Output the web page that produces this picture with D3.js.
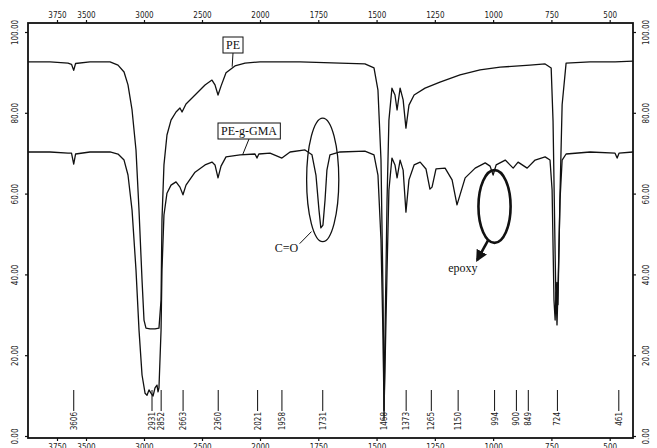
<!DOCTYPE html>
<html>
<head>
<meta charset="utf-8">
<style>
  html, body { margin: 0; padding: 0; background: #fff; }
  svg { display: block; }
  .tick-text { font-family: "Liberation Sans Narrow", "DejaVu Sans Condensed", "Liberation Sans", sans-serif; font-size: 8px; fill: #1a1a1a; }
  .note { font-family: "Liberation Serif", "DejaVu Serif", serif; font-size: 12px; fill: #111; }
</style>
</head>
<body>
<div id="chart"></div>

<script src="https://cdnjs.cloudflare.com/ajax/libs/d3/7.8.5/d3.min.js"></script>
<script>
  // chart size
  const width = 657;
  const height = 448;

  // axis ticks (wavenumber, cm-1) and transmittance ticks (%T)
  const wnTicks = [3750, 3500, 3000, 2500, 2000, 1750, 1500, 1250, 1000, 750, 500];
  const tTicks = [0, 20, 40, 60, 80, 100];

  // PE spectrum
  const peWn = [4000, 3810, 3655, 3625, 3606, 3590, 3466, 3293, 3224, 3172, 3138, 3103, 3069, 3043, 3017, 3000,
    2983, 2948, 2905, 2871, 2853, 2845, 2828, 2802, 2767, 2724, 2690, 2672, 2638, 2560, 2474, 2414, 2388, 2362,
    2336, 2293, 2216, 2129, 2000, 1828, 1657, 1550, 1511, 1494, 1481, 1472, 1468, 1464, 1455, 1447, 1434, 1421,
    1412, 1399, 1386, 1374, 1361, 1339, 1292, 1228, 1142, 1056, 970, 842, 777, 751, 743, 734, 730, 726, 722,
    713, 704, 687, 584, 477, 400];
  const peT = [92.6, 92.6, 92.3, 92.0, 90.5, 92.2, 92.6, 92.6, 91.8, 90.1, 86.9, 80.7, 70.8, 55.9, 38.6, 28.7,
    26.7, 26.5, 26.5, 26.7, 33.7, 53.5, 67.1, 74.5, 78.2, 80.2, 81.2, 80.2, 82.2, 84.4, 86.9, 88.1, 86.9, 84.4,
    86.6, 89.9, 91.6, 92.3, 92.6, 92.6, 92.3, 92.1, 91.1, 85.6, 68.3, 33.7, 4.0, 23.8, 58.4, 78.2, 86.1, 84.4,
    80.7, 86.1, 83.2, 76.2, 81.9, 84.4, 86.1, 87.6, 89.4, 90.6, 91.3, 91.8, 92.1, 91.1, 78.0, 45.0, 31.2, 38.0,
    32.5, 60.0, 82.0, 92.3, 92.6, 92.6, 92.8];

  // PE-g-GMA spectrum
  const gmaWn = [4000, 3810, 3655, 3625, 3606, 3590, 3466, 3293, 3224, 3172, 3138, 3103, 3069, 3043, 3017, 2991,
    2974, 2957, 2940, 2922, 2905, 2888, 2879, 2871, 2853, 2845, 2828, 2802, 2767, 2724, 2690, 2664, 2638, 2560,
    2474, 2414, 2388, 2362, 2336, 2293, 2172, 2043, 2026, 2010, 1957, 1906, 1871, 1807, 1777, 1760, 1747, 1739,
    1730, 1721, 1713, 1700, 1657, 1550, 1511, 1494, 1481, 1472, 1468, 1464, 1455, 1447, 1434, 1421, 1412, 1399,
    1386, 1374, 1361, 1339, 1313, 1288, 1271, 1262, 1245, 1206, 1176, 1155, 1142, 1120, 1077, 1034, 1013, 1000,
    987, 948, 914, 893, 854, 820, 777, 756, 747, 739, 734, 730, 726, 722, 713, 704, 687, 584, 477, 468, 460, 400];
  const gmaT = [70.3, 70.3, 70.0, 70.0, 67.3, 69.8, 70.3, 70.3, 69.8, 68.3, 64.6, 55.9, 41.1, 26.2, 15.1, 10.6,
    10.1, 11.4, 10.6, 9.9, 11.9, 12.6, 10.9, 11.9, 26.2, 41.1, 54.7, 60.1, 62.1, 62.9, 61.6, 59.7, 62.1, 65.3,
    67.1, 67.8, 67.1, 63.9, 66.8, 69.1, 69.6, 69.8, 68.8, 69.8, 70.0, 68.8, 70.3, 70.8, 69.6, 64.6, 55.9, 51.5,
    52.2, 58.4, 65.8, 69.6, 70.3, 70.5, 69.6, 64.6, 48.5, 23.8, 6.4, 16.3, 41.1, 60.9, 68.8, 67.1, 63.9, 68.3,
    65.8, 55.4, 63.4, 67.1, 67.8, 66.1, 61.1, 61.6, 66.1, 66.3, 63.4, 57.2, 59.7, 63.9, 66.3, 67.6, 66.8, 64.6,
    67.1, 68.3, 66.3, 67.8, 66.3, 68.3, 69.1, 68.3, 60.9, 33.7, 28.7, 35.6, 27.5, 35.6, 58.4, 68.3, 69.8, 70.3,
    70.0, 68.8, 70.0, 70.3];

  // peak markers along the bottom: where each is drawn and its printed label
  const peakAt = [3606, 2931, 2852, 2663, 2360, 2021, 1906, 1731, 1468, 1373, 1265, 1150, 994, 900, 849, 724, 461];
  const peakText = ["3606", "2931", "2852", "2663", "2360", "2021", "1958", "1731", "1468", "1373", "1265",
    "1150", "994", "900", "849", "724", "461"];

  const peData = peWn.map((w, i) => ({w, t: peT[i]}));
  const gmaData = gmaWn.map((w, i) => ({w, t: gmaT[i]}));

  // scales: the wavenumber axis is stretched 2x below 2000 cm-1
  const x = d3.scaleLinear().domain([4000, 2000, 400]).range([28, 260, 633]);
  const y = d3.scaleLinear().domain([0, 100]).range([436, 32]);
  const frameTop = 23, frameBottom = 438, frameLeft = 28, frameRight = 633;

  const svg = d3.create("svg")
    .attr("width", width)
    .attr("height", height)
    .attr("viewBox", [0, 0, width, height]);

  // attach now so text boxes can be measured
  d3.select("#chart").node().appendChild(svg.node());

  // frame
  svg.append("rect")
    .attr("x", frameLeft).attr("y", frameTop)
    .attr("width", frameRight - frameLeft).attr("height", frameBottom - frameTop)
    .attr("fill", "none").attr("stroke", "#111").attr("stroke-width", 1.8);

  // top and bottom wavenumber axes
  const topAxis = d3.axisTop(x).tickValues(wnTicks).tickSize(3).tickPadding(2).tickFormat(d3.format("d"));
  const bottomAxis = d3.axisBottom(x).tickValues(wnTicks).tickSize(3).tickPadding(3).tickFormat(d3.format("d"));

  const gTop = svg.append("g").attr("transform", `translate(0,${frameTop})`).call(topAxis);
  const gBottom = svg.append("g").attr("transform", `translate(0,${frameBottom})`).call(bottomAxis);

  // left and right %T axes, rotated labels
  const gLeft = svg.append("g").attr("transform", `translate(${frameLeft},0)`)
    .call(d3.axisLeft(y).tickValues(tTicks).tickSize(3).tickFormat(d3.format(".2f")));
  const gRight = svg.append("g").attr("transform", `translate(${frameRight},0)`)
    .call(d3.axisRight(y).tickValues(tTicks).tickSize(3).tickFormat(d3.format(".2f")));

  [gTop, gBottom, gLeft, gRight].forEach(g => {
    g.select(".domain").remove();
    g.selectAll(".tick line").attr("stroke", "#111").attr("stroke-width", 1.2);
    g.selectAll(".tick text").attr("class", "tick-text");
  });

  gLeft.selectAll(".tick text")
    .attr("x", null).attr("dy", null)
    .attr("text-anchor", "middle")
    .attr("transform", "translate(-13,0) rotate(-90)")
    .attr("y", 3);
  gRight.selectAll(".tick text")
    .attr("x", null).attr("dy", null)
    .attr("text-anchor", "middle")
    .attr("transform", "translate(13,0) rotate(-90)")
    .attr("y", 3);

  // spectra
  const line = d3.line().x(d => x(d.w)).y(d => y(d.t));

  svg.append("path")
    .datum(peData)
    .attr("d", line)
    .attr("fill", "none").attr("stroke", "#111").attr("stroke-width", 1.3)
    .attr("stroke-linejoin", "round");

  svg.append("path")
    .datum(gmaData)
    .attr("d", line)
    .attr("fill", "none").attr("stroke", "#111").attr("stroke-width", 1.3)
    .attr("stroke-linejoin", "round");

  // peak markers
  const peaks = svg.append("g");
  peaks.selectAll("line")
    .data(peakAt)
    .join("line")
    .attr("x1", d => x(d)).attr("x2", d => x(d))
    .attr("y1", 390).attr("y2", 411)
    .attr("stroke", "#222").attr("stroke-width", 1.1);
  peaks.selectAll("text")
    .data(peakAt)
    .join("text")
    .attr("class", "tick-text")
    .attr("text-anchor", "end")
    .attr("transform", d => `translate(${x(d) + 3},412) rotate(-90)`)
    .text((d, i) => peakText[i]);

  // labels of the two spectra
  function boxLabel(text, cx, cy, wn, t) {
    const g = svg.append("g");
    const txt = g.append("text").attr("class", "note")
      .attr("x", cx).attr("y", cy + 4).attr("text-anchor", "middle").text(text);
    const bb = txt.node().getBBox();
    g.insert("rect", "text")
      .attr("x", bb.x - 3).attr("y", bb.y - 1)
      .attr("width", bb.width + 6).attr("height", bb.height + 2)
      .attr("fill", "#fff").attr("stroke", "#111").attr("stroke-width", 1);
    g.append("line")
      .attr("x1", cx).attr("y1", bb.y + bb.height + 1)
      .attr("x2", x(wn)).attr("y2", y(t))
      .attr("stroke", "#111").attr("stroke-width", 1);
  }

  // C=O ellipse
  svg.append("ellipse")
    .attr("cx", x(1731)).attr("cy", y(63.4))
    .attr("rx", x(1662) - x(1731)).attr("ry", y(48.1) - y(63.4))
    .attr("fill", "none").attr("stroke", "#111").attr("stroke-width", 1.3);
  svg.append("line")
    .attr("x1", x(1830)).attr("y1", y(47.6))
    .attr("x2", x(1779)).attr("y2", y(50.6))
    .attr("stroke", "#111").attr("stroke-width", 1);
  svg.append("text").attr("class", "note")
    .attr("x", x(1836)).attr("y", y(45.5)).attr("text-anchor", "end").text("C=O");

  // epoxy ellipse and arrow
  svg.append("defs").append("marker")
    .attr("id", "arrow").attr("viewBox", "0 0 10 10")
    .attr("refX", 8).attr("refY", 5)
    .attr("markerWidth", 4.5).attr("markerHeight", 4.5)
    .attr("orient", "auto")
    .append("path").attr("d", "M0,0L10,5L0,10z").attr("fill", "#111");

  svg.append("ellipse")
    .attr("cx", x(994)).attr("cy", y(56.8))
    .attr("rx", x(925) - x(994)).attr("ry", y(47.8) - y(56.8))
    .attr("fill", "none").attr("stroke", "#111").attr("stroke-width", 2.6);
  svg.append("line")
    .attr("x1", x(1020)).attr("y1", y(48.6))
    .attr("x2", x(1068)).attr("y2", y(43.6))
    .attr("stroke", "#111").attr("stroke-width", 2.6)
    .attr("marker-end", "url(#arrow)");
  svg.append("text").attr("class", "note")
    .attr("x", x(1130)).attr("y", y(40.5)).attr("text-anchor", "middle").text("epoxy");

  boxLabel("PE", 233, 45, 2240, 91.4);
  boxLabel("PE-g-GMA", 249, 131, 2150, 69.6);
</script>
</body>
</html>
